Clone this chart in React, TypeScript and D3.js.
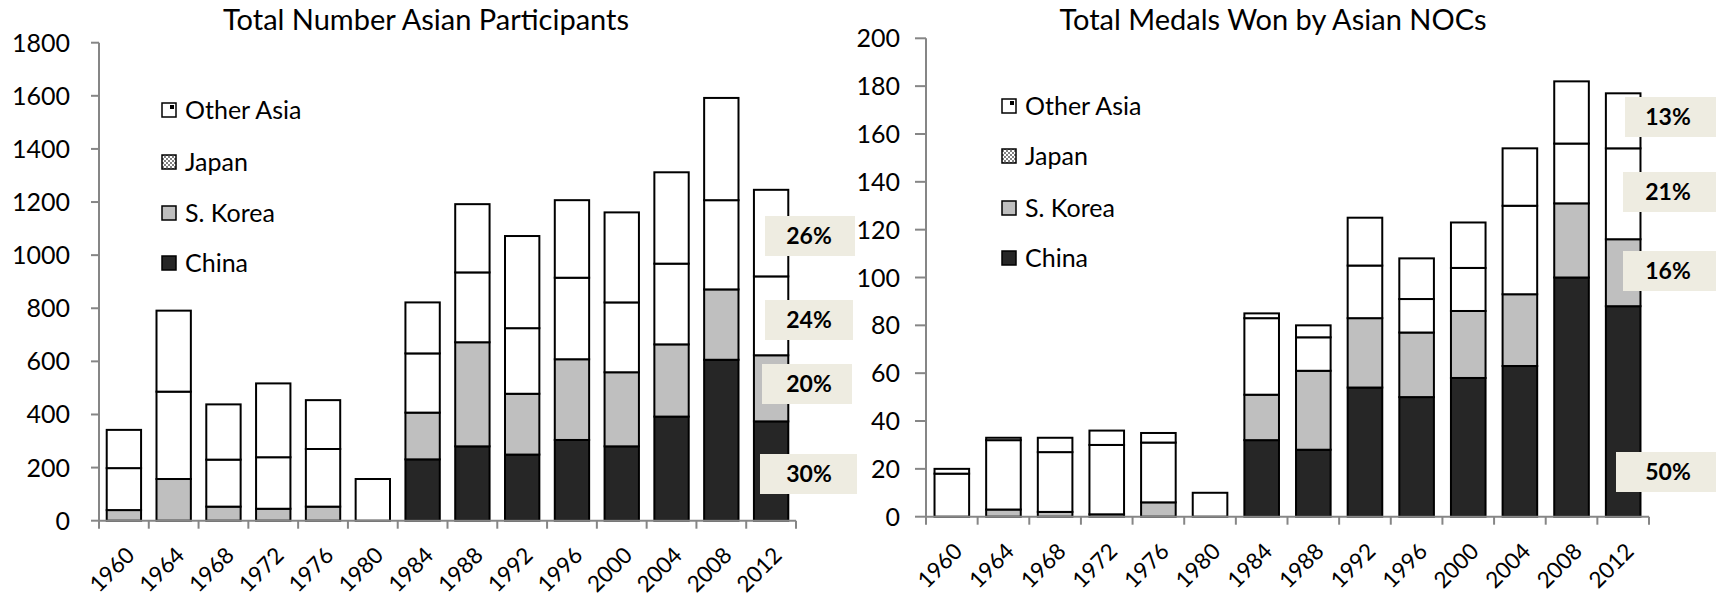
import React from 'react';
import * as d3 from 'd3';

const years = ['1960', '1964', '1968', '1972', '1976', '1980', '1984', '1988', '1992', '1996', '2000', '2004', '2008', '2012'];
const seriesNames = ['China', 'S. Korea', 'Japan', 'Other Asia'];

// Total number of participants
const partChina = [0, 0, 0, 0, 0, 0, 231, 280, 249, 304, 280, 392, 606, 374];
const partKorea = [40, 157, 53, 45, 53, 0, 176, 392, 229, 304, 279, 272, 265, 249];
const partJapan = [158, 329, 177, 194, 217, 0, 223, 263, 247, 307, 263, 304, 336, 297];
const partOther = [144, 305, 208, 278, 184, 157, 192, 257, 347, 292, 339, 344, 385, 326];

// Total medals won
const medChina = [0, 0, 0, 0, 0, 0, 32, 28, 54, 50, 58, 63, 100, 88];
const medKorea = [0, 3, 2, 1, 6, 0, 19, 33, 29, 27, 28, 30, 31, 28];
const medJapan = [18, 29, 25, 29, 25, 0, 32, 14, 22, 14, 18, 37, 25, 38];
const medOther = [2, 1, 6, 6, 4, 10, 2, 5, 20, 17, 19, 24, 26, 23];

const partTicks = [0, 200, 400, 600, 800, 1000, 1200, 1400, 1600, 1800];
const medTicks = [0, 20, 40, 60, 80, 100, 120, 140, 160, 180, 200];

const titles = ['Total Number Asian Participants', 'Total Medals Won by Asian NOCs'];

const FONT = 'Lato, "Open Sans", sans-serif';
const fills: Record<string, string> = {
  'China': '#262626',
  'S. Korea': '#BFBFBF',
  'Japan': '#FFFFFF',
  'Other Asia': '#FFFFFF',
};
const legendFills: Record<string, string> = {
  'China': '#262626',
  'S. Korea': '#BFBFBF',
  'Japan': 'url(#japanPat)',
  'Other Asia': 'url(#otherPat)',
};
const keys = ['china', 'korea', 'japan', 'other'];

type PanelProps = {
  china: number[]; korea: number[]; japan: number[]; other: number[];
  ticks: number[]; yMax: number;
  x0: number; x1: number; y0: number; y1: number;
  pad: number; tickLen: number; labelRight: number;
  title: string; titleX: number;
  legX: number; legRows: number[];
  boxes: { cy: number; x: number; w: number; key: string }[];
  boxTextX: number;
};

function Panel(p: PanelProps) {
  const x = d3.scaleBand<string>().domain(years).range([p.x0, p.x1]).paddingInner(p.pad).paddingOuter(p.pad / 2);
  const y = d3.scaleLinear().domain([0, p.yMax]).range([p.y0, p.y1]);
  const table = years.map((yr, i) => ({ year: yr, china: p.china[i], korea: p.korea[i], japan: p.japan[i], other: p.other[i] }));
  const stacked = d3.stack<any>().keys(keys)(table);
  const step = x.step();
  const last = table[table.length - 1];
  const total = keys.reduce((s, k) => s + (last as any)[k], 0);
  const pct = (k: string) => Math.round(((last as any)[k] / total) * 100) + '%';
  const legendOrder = ['Other Asia', 'Japan', 'S. Korea', 'China'];
  return (
    <g>
      <text x={p.titleX} y={30} textAnchor="middle" fontFamily={FONT} fontSize={29} fill="#000">{p.title}</text>
      {stacked.map((layer, li) => (
        <g key={li}>
          {layer.map((d, i) => {
            const v = d[1] - d[0];
            if (v <= 0) return null;
            return (
              <rect key={i} x={x(years[i])!} width={x.bandwidth()} y={y(d[1])} height={y(d[0]) - y(d[1])}
                fill={fills[seriesNames[li]]} stroke="#000" strokeWidth={2} />
            );
          })}
        </g>
      ))}
      {/* y axis */}
      <line x1={p.x0} x2={p.x0} y1={y(p.yMax)} y2={p.y0} stroke="#868686" strokeWidth={2} />
      {p.ticks.map(t => (
        <g key={t}>
          <line x1={p.x0 - p.tickLen} x2={p.x0} y1={y(t)} y2={y(t)} stroke="#868686" strokeWidth={2} />
          <text x={p.labelRight} y={y(t)} dy="0.36em" textAnchor="end" fontFamily={FONT} fontSize={25} fill="#000">{t}</text>
        </g>
      ))}
      {/* x axis */}
      <line x1={p.x0} x2={p.x1} y1={p.y0} y2={p.y0} stroke="#868686" strokeWidth={2} />
      {d3.range(years.length + 1).map(i => (
        <line key={i} x1={p.x0 + i * step} x2={p.x0 + i * step} y1={p.y0} y2={p.y0 + 8} stroke="#868686" strokeWidth={2} />
      ))}
      {years.map(yr => {
        const cx = x(yr)! + x.bandwidth() / 2 + 12;
        const cy = p.y0 + 36;
        return (
          <text key={yr} transform={`translate(${cx},${cy}) rotate(-45)`} textAnchor="end" fontFamily={FONT} fontSize={22.5} fill="#000">{yr}</text>
        );
      })}
      {/* legend */}
      {legendOrder.map((name, i) => (
        <g key={name}>
          <rect x={p.legX} y={p.legRows[i] - 7} width={14} height={14} fill={legendFills[name]} stroke="#000" strokeWidth={1.5} />
          <text x={p.legX + 23} y={p.legRows[i]} dy="0.36em" fontFamily={FONT} fontSize={25} fill="#000">{name}</text>
        </g>
      ))}
      {/* share labels */}
      {p.boxes.map(b => (
        <g key={b.key}>
          <rect x={b.x} y={b.cy - 20} width={b.w} height={40} fill="#EEECE1" />
          <text x={p.boxTextX} y={b.cy} dy="0.36em" textAnchor="middle" fontFamily={FONT} fontWeight="bold" fontSize={23} fill="#000">{pct(b.key)}</text>
        </g>
      ))}
    </g>
  );
}

export default function App() {
  return (
    <svg width={1716} height={601} style={{ position: 'absolute', left: 0, top: 0, background: '#fff' }}>
      <defs>
        <pattern id="japanPat" width={4} height={4} patternUnits="userSpaceOnUse">
          <rect width={4} height={4} fill="#FFFFFF" />
          <rect width={2} height={2} fill="#808080" />
          <rect x={2} y={2} width={2} height={2} fill="#808080" />
        </pattern>
        <pattern id="otherPat" width={14} height={14} patternUnits="objectBoundingBox">
          <rect width={14} height={14} fill="#FFFFFF" />
          <rect x={8} y={2} width={4} height={4} fill="#000" />
        </pattern>
      </defs>
      <rect width={1716} height={601} fill="#fff" />
      <Panel china={partChina} korea={partKorea} japan={partJapan} other={partOther}
        ticks={partTicks} yMax={1800}
        x0={99} x1={796} y0={520.7} y1={42.7} pad={0.31} tickLen={8} labelRight={70}
        title={titles[0]} titleX={426}
        legX={162} legRows={[110, 162, 213, 263]}
        boxes={[
          { key: 'other', cy: 236, x: 765, w: 90 },
          { key: 'japan', cy: 320, x: 765, w: 88 },
          { key: 'korea', cy: 384, x: 762, w: 90 },
          { key: 'china', cy: 474, x: 760, w: 97 },
        ]}
        boxTextX={809}
      />
      <Panel china={medChina} korea={medKorea} japan={medJapan} other={medOther}
        ticks={medTicks} yMax={200}
        x0={926} x1={1649} y0={516.7} y1={38.3} pad={0.33} tickLen={11} labelRight={900}
        title={titles[1]} titleX={1273}
        legX={1002} legRows={[106, 156, 208, 258]}
        boxes={[
          { key: 'other', cy: 117, x: 1625, w: 91 },
          { key: 'japan', cy: 192, x: 1623, w: 93 },
          { key: 'korea', cy: 271, x: 1623, w: 93 },
          { key: 'china', cy: 472, x: 1616, w: 100 },
        ]}
        boxTextX={1668}
      />
    </svg>
  );
}
